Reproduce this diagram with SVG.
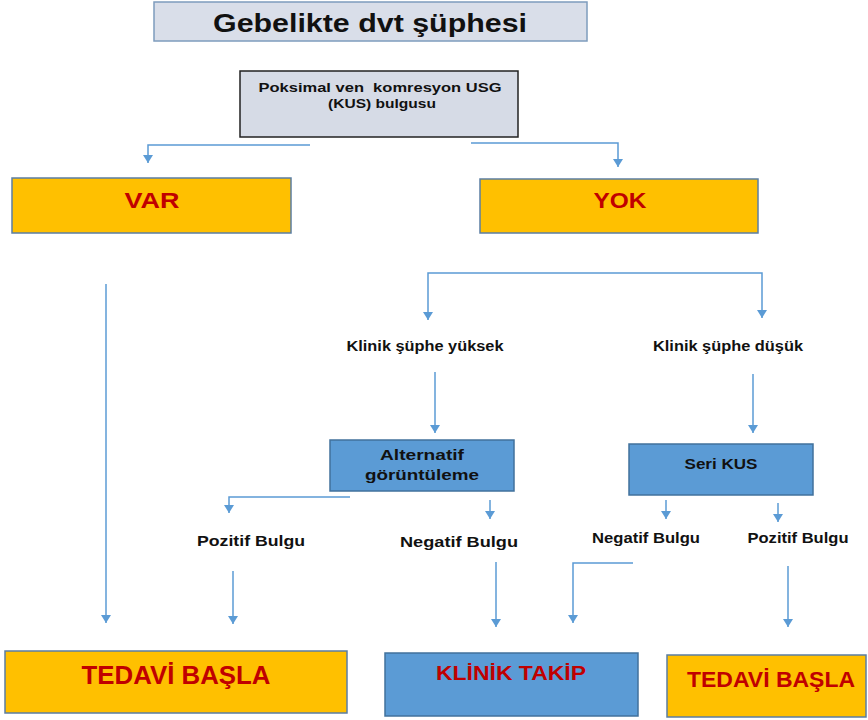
<svg xmlns="http://www.w3.org/2000/svg" width="868" height="720" viewBox="0 0 868 720">
<defs>
<style>
.t{font-family:"Liberation Sans",Arial,sans-serif;font-weight:bold;text-anchor:middle;}
.blk{fill:#111;}
.red{fill:#C00000;}
.org{fill:#FFC000;stroke:#5B7EA3;stroke-width:1.5;}
.blu{fill:#5B9BD5;stroke:#41719C;stroke-width:1.5;}
.c{fill:none;stroke:#5B9BD5;stroke-width:1.5;marker-end:url(#ah);}
</style>
<marker id="ah" markerUnits="userSpaceOnUse" markerWidth="10" markerHeight="10" refX="8" refY="5" orient="auto">
<path d="M0,0 L8,5 L0,10 z" fill="#5B9BD5"/>
</marker>
</defs>
<rect width="868" height="720" fill="#fff"/>
<g id="title">
<rect x="154" y="2" width="433" height="39" fill="#D9DEE9" stroke="#7E9CBD" stroke-width="1.5"/>
<text class="t blk" x="370" y="32" font-size="25" textLength="314" lengthAdjust="spacingAndGlyphs">Gebelikte dvt şüphesi</text>
</g>
<g id="kus">
<rect x="240" y="71" width="278" height="66" fill="#D6DBE6" stroke="#222" stroke-width="1.5"/>
<text class="t blk" x="380" y="92" font-size="13.5" xml:space="preserve" textLength="243" lengthAdjust="spacingAndGlyphs">Poksimal ven  komresyon USG</text>
<text class="t blk" x="382" y="108" font-size="13.5" textLength="108" lengthAdjust="spacingAndGlyphs">(KUS) bulgusu</text>
</g>
<g id="var">
<rect class="org" x="12" y="178" width="279" height="55"/>
<text class="t red" x="152" y="208" font-size="22" textLength="55" lengthAdjust="spacingAndGlyphs">VAR</text>
</g>
<g id="yok">
<rect class="org" x="480" y="179" width="278" height="54"/>
<text class="t red" x="620" y="208" font-size="22" textLength="53" lengthAdjust="spacingAndGlyphs">YOK</text>
</g>
<g id="yuksek">
<text class="t blk" x="425" y="351" font-size="14" textLength="157" lengthAdjust="spacingAndGlyphs">Klinik şüphe yüksek</text>
</g>
<g id="dusuk">
<text class="t blk" x="728" y="351" font-size="14" textLength="150" lengthAdjust="spacingAndGlyphs">Klinik şüphe düşük</text>
</g>
<g id="alternatif">
<rect class="blu" x="330" y="440" width="184" height="51"/>
<text class="t blk" x="422" y="460" font-size="14" textLength="84" lengthAdjust="spacingAndGlyphs">Alternatif</text>
<text class="t blk" x="422" y="480" font-size="14" textLength="114" lengthAdjust="spacingAndGlyphs">görüntüleme</text>
</g>
<g id="seri">
<rect class="blu" x="629" y="444" width="184" height="51"/>
<text class="t blk" x="721" y="469" font-size="14" textLength="73" lengthAdjust="spacingAndGlyphs">Seri KUS</text>
</g>
<g id="pozitif1">
<text class="t blk" x="251" y="546" font-size="14" textLength="108" lengthAdjust="spacingAndGlyphs">Pozitif Bulgu</text>
</g>
<g id="negatif1">
<text class="t blk" x="459" y="547" font-size="14" textLength="118" lengthAdjust="spacingAndGlyphs">Negatif Bulgu</text>
</g>
<g id="negatif2">
<text class="t blk" x="646" y="543" font-size="14" textLength="108" lengthAdjust="spacingAndGlyphs">Negatif Bulgu</text>
</g>
<g id="pozitif2">
<text class="t blk" x="798" y="543" font-size="14" textLength="101" lengthAdjust="spacingAndGlyphs">Pozitif Bulgu</text>
</g>
<g id="tedavi1">
<rect class="org" x="5" y="651" width="342" height="62"/>
<text class="t red" x="176" y="684" font-size="25" textLength="189" lengthAdjust="spacingAndGlyphs">TEDAVİ BAŞLA</text>
</g>
<g id="takip">
<rect class="blu" x="385" y="653" width="253" height="63"/>
<text class="t red" x="511" y="680" font-size="21" textLength="150" lengthAdjust="spacingAndGlyphs">KLİNİK TAKİP</text>
</g>
<g id="tedavi2">
<rect class="org" x="667" y="655" width="199" height="62"/>
<text class="t red" x="771" y="687" font-size="22" textLength="168" lengthAdjust="spacingAndGlyphs">TEDAVİ BAŞLA</text>
</g>
<g id="connectors">
<path class="c" d="M310,145 H148 V163"/>
<path class="c" d="M471,143 H618 V167"/>
<path class="c" d="M106,284 V623"/>
<path class="c" d="M595,273 H428 V320"/>
<path class="c" d="M595,273 H762 V318"/>
<path class="c" d="M435,372 V433"/>
<path class="c" d="M753,374 V433"/>
<path class="c" d="M350,497 H229 V513"/>
<path class="c" d="M490,500 V519"/>
<path class="c" d="M666,500 V519"/>
<path class="c" d="M778,503 V522"/>
<path class="c" d="M233,571 V624"/>
<path class="c" d="M496,562 V627"/>
<path class="c" d="M633,563 H573 V623"/>
<path class="c" d="M788,566 V627"/>
</g>
</svg>
